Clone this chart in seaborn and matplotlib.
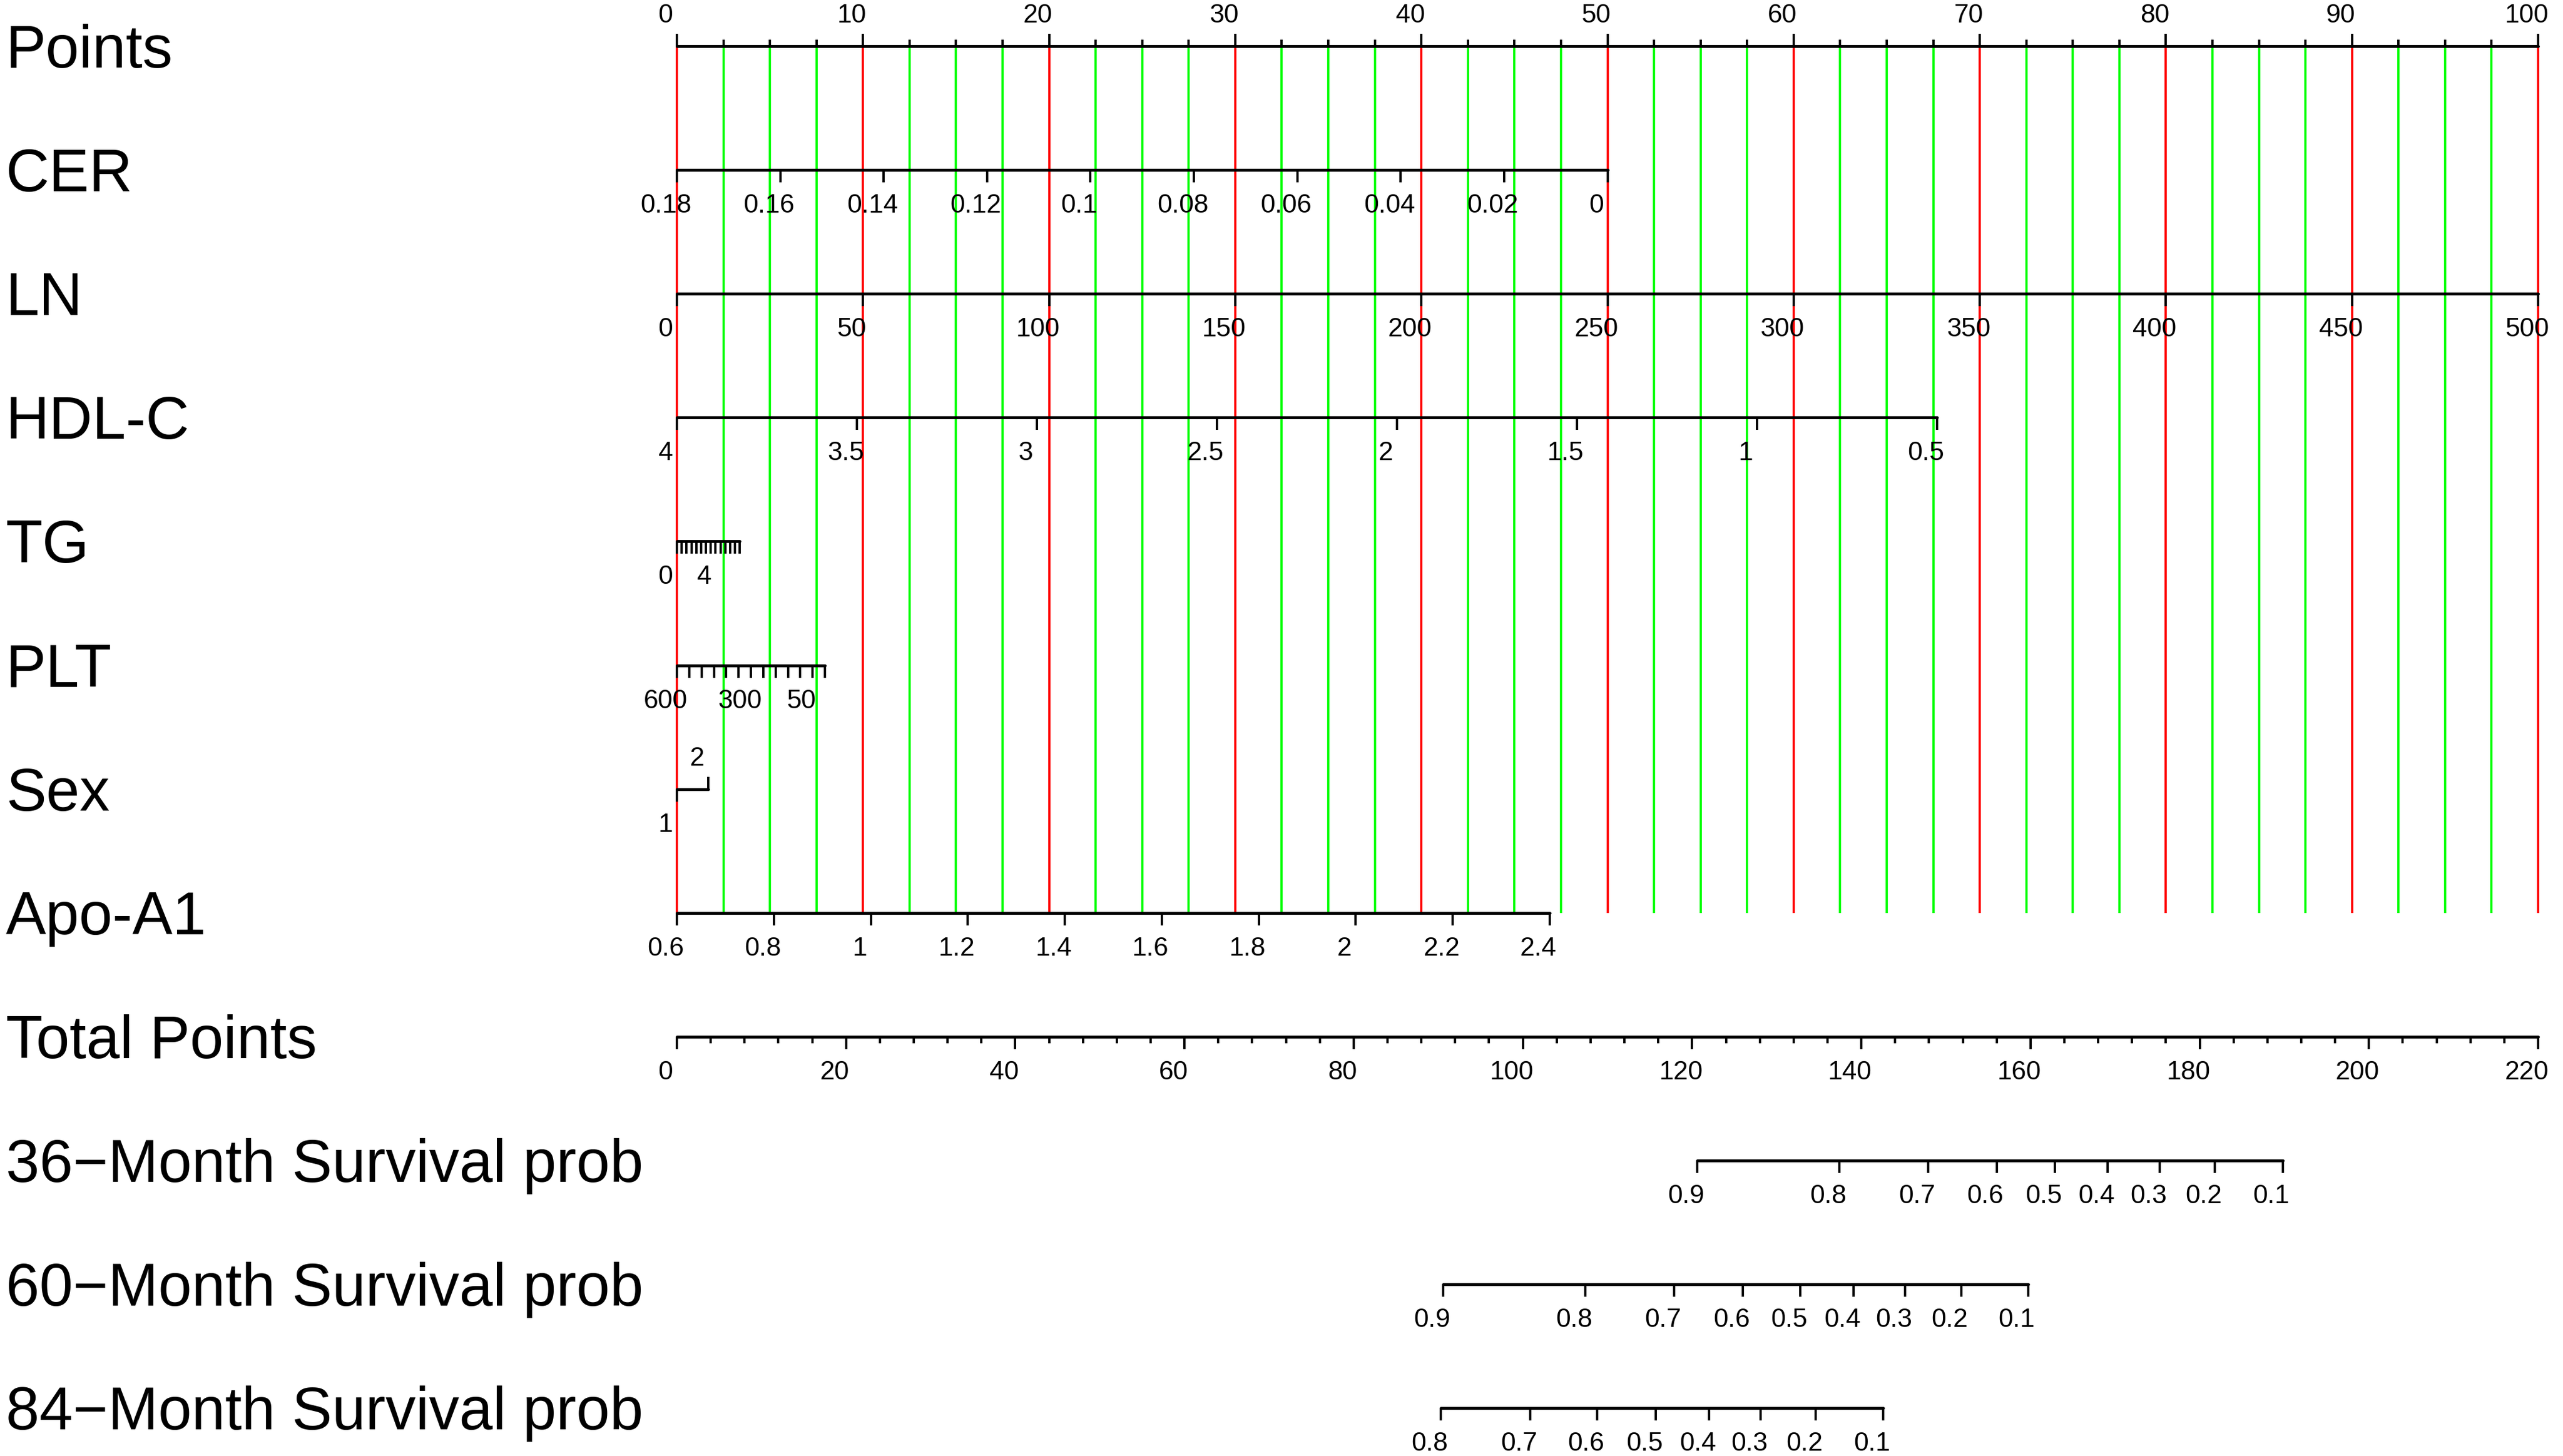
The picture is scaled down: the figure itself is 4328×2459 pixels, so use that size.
import numpy as np
import pandas as pd
import matplotlib
matplotlib.use("Agg")
import matplotlib.pyplot as plt
import seaborn as sns

# ------------------------------------------------------------------ data
row_names = ["Points", "CER", "LN", "HDL-C", "TG", "PLT", "Sex", "Apo-A1",
             "Total Points", "36\u2212Month Survival prob",
             "60\u2212Month Survival prob", "84\u2212Month Survival prob"]

points_major = [0, 10, 20, 30, 40, 50, 60, 70, 80, 90, 100]
points_minor = list(np.arange(0, 100.01, 2.5))

cer_ticks = [0.18, 0.16, 0.14, 0.12, 0.10, 0.08, 0.06, 0.04, 0.02, 0.0]
cer_labels = ["0.18", "0.16", "0.14", "0.12", "0.1", "0.08", "0.06", "0.04", "0.02", "0"]
cer_map = [(0.18, 0.0), (0.0, 50.0)]          # (value, points)

ln_ticks = [0, 50, 100, 150, 200, 250, 300, 350, 400, 450, 500]
ln_labels = [str(v) for v in ln_ticks]
ln_map = [(0, 0.0), (500, 100.0)]

hdl_ticks = [4, 3.5, 3, 2.5, 2, 1.5, 1, 0.5]
hdl_labels = ["4", "3.5", "3", "2.5", "2", "1.5", "1", "0.5"]
hdl_map = [(4, 0.0), (0.5, 67.7)]

tg_ticks = [0, 0.5, 1, 1.5, 2, 2.5, 3, 3.5, 4, 4.5, 5, 5.5, 6, 6.5]
tg_labels = ["0", "", "", "", "", "", "", "", "4", "", "", "", "", ""]
tg_map = [(0, 0.0), (6.5, 3.38)]

plt_ticks = [600, 550, 500, 450, 400, 350, 300, 250, 200, 150, 100, 50, 0]
plt_labels = ["600", "", "", "", "", "", "300", "", "", "", "", "50", ""]
plt_map = [(600, 0.0), (0, 7.96)]

sex_levels = ["1", "2"]
sex_points = [0.0, 1.69]

apo_ticks = [0.6, 0.8, 1.0, 1.2, 1.4, 1.6, 1.8, 2.0, 2.2, 2.4]
apo_labels = ["0.6", "0.8", "1", "1.2", "1.4", "1.6", "1.8", "2", "2.2", "2.4"]
apo_map = [(0.6, 0.0), (2.4, 46.9)]

total_major = [0, 20, 40, 60, 80, 100, 120, 140, 160, 180, 200, 220]
total_minor = list(range(0, 221, 4))
total_max = 220

surv36_labels = ["0.9", "0.8", "0.7", "0.6", "0.5", "0.4", "0.3", "0.2", "0.1"]
surv36_total = [120.6, 137.4, 147.9, 156.0, 162.9, 169.1, 175.3, 181.8, 189.8]
surv60_labels = ["0.9", "0.8", "0.7", "0.6", "0.5", "0.4", "0.3", "0.2", "0.1"]
surv60_total = [90.6, 107.4, 117.9, 126.0, 132.8, 139.1, 145.2, 151.8, 159.7]
surv84_labels = ["0.8", "0.7", "0.6", "0.5", "0.4", "0.3", "0.2", "0.1"]
surv84_total = [90.3, 100.9, 108.8, 115.7, 122.0, 128.1, 134.6, 142.6]

# ------------------------------------------------------------------ layout
W, H, DPI = 4328, 2459, 200
X0_PX, X100_PX = 1143, 4286
PX_PER_PT = (X100_PX - X0_PX) / 100.0
ROW_Y0, ROW_DY = 78, 209.1
rows_y = [ROW_Y0 + i * ROW_DY for i in range(len(row_names))]

LABEL_FS = 36.6
TICK_FS = 16
AXIS_LW = 1.75
TICK_LW = 1.4
GRID_LW = 1.35
TICK_LEN = 21          # px
MINOR_LEN = 11         # px
LBL_DX = -19 / PX_PER_PT
BELOW_BASE = 72        # px below line (baseline)
ABOVE_BASE = 40        # px above line (baseline)

sns.set_theme(style="white")
plt.rcParams["font.family"] = ["Liberation Sans", "DejaVu Sans"]

fig = plt.figure(figsize=(W / DPI, H / DPI), dpi=DPI)
ax = fig.add_axes([0, 0, 1, 1])


def lin(mapping, values):
    (v0, p0), (v1, p1) = mapping
    return [p0 + (v - v0) * (p1 - p0) / (v1 - v0) for v in values]


# ---- red / green reference lines
grid_x = points_minor
grid_col = ["#FF0000" if abs(v / 10 - round(v / 10)) < 1e-9 else "#00FF00" for v in grid_x]
ax.vlines(grid_x, rows_y[0], rows_y[7], colors=grid_col, lw=GRID_LW, zorder=1)

# ---- collect scale lines (drawn via seaborn)
segs = []
ticks = []     # (x, y0, y1)
labels = []    # (x, y, text)


def add_scale(row, xs, texts, below=True, lens=None):
    y = rows_y[row]
    lo, hi = min(xs), max(xs)
    segs.append(pd.DataFrame({"x": [lo, hi], "y": [y, y], "seg": row}))
    for i, (x, t) in enumerate(zip(xs, texts)):
        L = TICK_LEN if lens is None else lens[i]
        if below:
            ticks.append((x, y, y + L))
            if t:
                labels.append((x, y + BELOW_BASE, t))
        else:
            ticks.append((x, y, y - L))
            if t:
                labels.append((x, y - ABOVE_BASE, t))


# Points (ticks up)
pm = set(points_major)
add_scale(0, points_minor,
          [str(int(v)) if v in pm else "" for v in points_minor],
          below=False,
          lens=[TICK_LEN if v in pm else MINOR_LEN for v in points_minor])
add_scale(1, lin(cer_map, cer_ticks), cer_labels)
add_scale(2, lin(ln_map, ln_ticks), ln_labels)
add_scale(3, lin(hdl_map, hdl_ticks), hdl_labels)
add_scale(4, lin(tg_map, tg_ticks), tg_labels)
add_scale(5, lin(plt_map, plt_ticks), plt_labels)

# Sex: level 1 below, level 2 above
ys = rows_y[6]
segs.append(pd.DataFrame({"x": sex_points, "y": [ys, ys], "seg": 6}))
ticks.append((sex_points[0], ys, ys + TICK_LEN))
labels.append((sex_points[0], ys + BELOW_BASE, sex_levels[0]))
ticks.append((sex_points[1], ys, ys - TICK_LEN))
labels.append((sex_points[1], ys - ABOVE_BASE, sex_levels[1]))

add_scale(7, lin(apo_map, apo_ticks), apo_labels)

# Total points
tmaj = set(total_major)
tot_x = [v * 100.0 / total_max for v in total_minor]
add_scale(8, tot_x, [str(v) if v in tmaj else "" for v in total_minor],
          lens=[TICK_LEN if v in tmaj else MINOR_LEN for v in total_minor])

for r, (tp, tl) in zip([9, 10, 11], [(surv36_total, surv36_labels),
                                      (surv60_total, surv60_labels),
                                      (surv84_total, surv84_labels)]):
    add_scale(r, [v * 100.0 / total_max for v in tp], tl)

seg_df = pd.concat(segs, ignore_index=True)
sns.lineplot(data=seg_df, x="x", y="y", units="seg", estimator=None,
             sort=False, color="black", lw=AXIS_LW, legend=False, ax=ax, zorder=3)

for x, y0, y1 in ticks:
    ax.plot([x, x], [y0, y1], color="black", lw=TICK_LW, solid_capstyle="butt", zorder=3)

for x, y, t in labels:
    ax.text(x + LBL_DX, y, t, ha="center", va="baseline", fontsize=TICK_FS,
            color="black", zorder=4)

# Row names
name_x = (10 - X0_PX) / PX_PER_PT
for name, y in zip(row_names, rows_y):
    ax.text(name_x, y + 36, name, ha="left", va="baseline", fontsize=LABEL_FS,
            color="black")

ax.set_xlim(-X0_PX / PX_PER_PT, (W - X0_PX) / PX_PER_PT)
ax.set_ylim(H, 0)
ax.axis("off")

fig.savefig("out.png", dpi=DPI, facecolor="white")
